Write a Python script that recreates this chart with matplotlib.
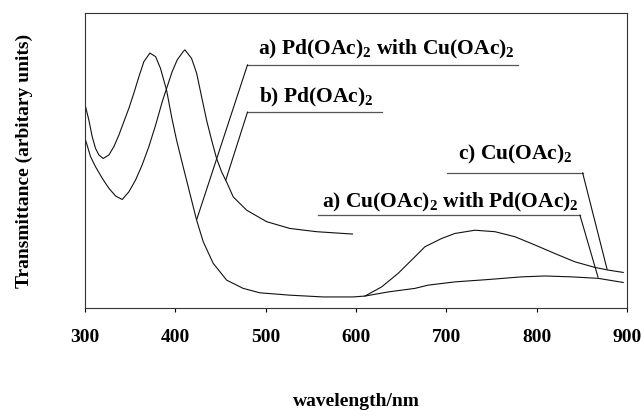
import numpy as np
import matplotlib.pyplot as plt

plt.rcParams['font.family'] = ['Liberation Serif', 'DejaVu Serif']
plt.rcParams['mathtext.fontset'] = 'custom'
plt.rcParams['mathtext.rm'] = 'Liberation Serif:bold'

# a) Pd(OAc)2 with Cu(OAc)2  (mixture: Pd band + weak Cu band)
wl_mix = [300.8, 304.4, 308.1, 311.8, 315.5, 320.3, 326.6, 332.1, 337.6, 343.2,
          348.7, 354.2, 359.8, 365.3, 372.0, 378.3, 383.6, 390.4, 396.0, 401.5,
          408.8, 416.2, 423.7, 431.0, 442.0, 456.9, 475.2, 493.7, 526.9, 563.8,
          597.0, 610.0, 635.8, 665.3, 680.0, 709.6, 746.5, 783.4, 809.2, 838.8,
          868.2, 895.9]
tr_mix = [68.2, 63.7, 58.1, 54.1, 51.9, 50.7, 51.9, 54.7, 58.6, 63.2,
          67.7, 72.8, 78.4, 83.5, 86.4, 85.2, 81.3, 73.9, 64.8, 56.9,
          47.9, 38.9, 29.8, 22.5, 15.2, 9.5, 6.7, 5.2, 4.4, 3.8,
          3.8, 4.1, 5.5, 6.7, 7.8, 8.9, 9.7, 10.6, 10.9, 10.6,
          10.1, 8.7]

# b) Pd(OAc)2
wl_pd = [300.8, 306.3, 311.8, 319.2, 326.6, 334.0, 341.3, 348.7, 356.1, 363.4,
         370.8, 378.3, 385.6, 391.1, 396.6, 402.2, 408.8, 410.7, 418.1, 423.7,
         429.2, 434.7, 440.3, 445.8, 451.3, 457.5, 464.2, 479.0, 501.1, 526.9,
         556.5, 596.3]
tr_pd = [56.9, 51.3, 47.9, 44.0, 40.6, 38.0, 36.8, 39.4, 43.4, 48.5,
         54.7, 62.0, 69.9, 75.0, 80.1, 84.1, 86.9, 87.5, 84.6, 79.6,
         71.6, 63.7, 56.9, 50.7, 46.2, 42.3, 37.7, 33.2, 29.3, 27.0,
         25.9, 25.1]

# c) Cu(OAc)2
wl_cu = [610.0, 628.5, 646.8, 665.3, 676.4, 694.9, 709.6, 731.7, 753.9, 776.0,
         798.2, 820.3, 842.4, 864.6, 879.3, 895.9]
tr_cu = [4.1, 7.2, 11.8, 17.4, 20.8, 23.6, 25.3, 26.4, 25.9, 24.2,
         21.4, 18.5, 15.7, 13.8, 12.9, 12.1]

xticks = [300, 400, 500, 600, 700, 800, 900]

# label text, text position, underline (x0, x1, y), leader target
labels = [
    (r'a) Pd(OAc)$_2$ with Cu(OAc)$_2$', (492, 87.5), (480, 779, 82.4), (424, 30.2)),
    (r'b) Pd(OAc)$_2$', (493, 71.5), (480, 629, 66.4), (456, 43.4)),
    (r'c) Cu(OAc)$_2$', (713, 51.9), (701, 851, 45.8), (878, 13.2)),
    (r'a) Cu(OAc)$_2$ with Pd(OAc)$_2$', (563, 35.9), (558, 848, 31.5), (868, 10.5)),
]

fig = plt.figure(figsize=(6.43, 4.17), dpi=100)
ax = fig.add_axes([0.132, 0.261, 0.843, 0.708])

for wl, tr in [(wl_mix, tr_mix), (wl_pd, tr_pd), (wl_cu, tr_cu)]:
    ax.plot(wl, tr, color='#111111', lw=0.8)

for i, (txt, pos, ul, tgt) in enumerate(labels):
    ax.text(pos[0], pos[1], txt, fontsize=15.5, fontweight='bold', va='center', ha='left')
    ax.plot([ul[0], ul[1]], [ul[2], ul[2]], color='#555555', lw=0.9)
    # first two labels hang their leader from the left end, the others from the right
    x0 = ul[0] if i < 2 else ul[1]
    ax.plot([x0, tgt[0]], [ul[2], tgt[1]], color='#111111', lw=0.8)

ax.set_xlim(300, 900)
ax.set_ylim(0, 100)
ax.set_xticks(xticks)
ax.set_xticklabels([str(t) for t in xticks], fontsize=14, fontweight='bold')
ax.tick_params(axis='x', direction='out', length=3, pad=12)
ax.set_yticks([])
for s in ax.spines.values():
    s.set_linewidth(0.8)
    s.set_color('#333333')

ax.set_xlabel('wavelength/nm', fontsize=14, fontweight='bold', labelpad=34)
ax.set_ylabel('Transmittance (arbitary units)', fontsize=14, fontweight='bold', labelpad=37)

fig.savefig('out.png', dpi=100)
